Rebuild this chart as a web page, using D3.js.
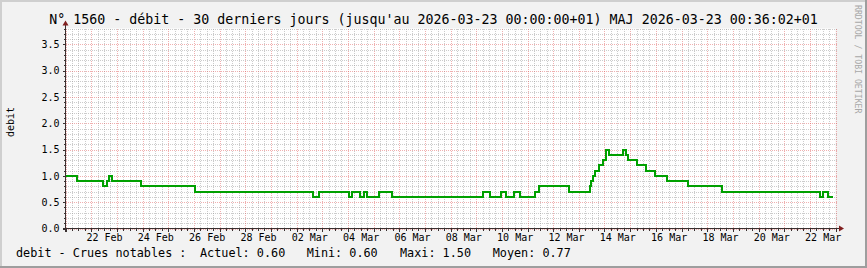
<!DOCTYPE html>
<html>
<head>
<meta charset="utf-8">
<script src="https://cdn.jsdelivr.net/npm/d3@7"></script>
<style>
  body { margin: 0; background: #f2f2f2; }
  svg { display: block; }
  text { font-family: "DejaVu Sans Mono", monospace; }
</style>
</head>
<body>
<div id="chart"></div>
<script>
// debit : change points (local time, +01) -- value holds until the next point
const times = [
  "2026-02-21T00:00", "2026-02-21T11:00", "2026-02-22T11:00", "2026-02-22T15:00",
  "2026-02-22T17:00", "2026-02-22T19:30", "2026-02-23T23:00", "2026-02-26T01:30",
  "2026-03-02T15:00", "2026-03-02T21:30", "2026-03-04T01:00", "2026-03-04T04:00",
  "2026-03-04T11:30", "2026-03-04T14:40", "2026-03-04T17:45", "2026-03-05T05:00",
  "2026-03-05T17:30", "2026-03-09T06:00", "2026-03-09T13:00", "2026-03-09T23:30",
  "2026-03-10T03:40", "2026-03-10T11:35", "2026-03-10T17:10", "2026-03-11T06:50",
  "2026-03-11T11:10", "2026-03-12T14:50", "2026-03-13T10:00", "2026-03-13T11:50",
  "2026-03-13T13:40", "2026-03-13T15:35", "2026-03-13T18:25", "2026-03-13T22:35",
  "2026-03-14T01:50", "2026-03-14T04:00", "2026-03-14T17:20", "2026-03-14T19:55",
  "2026-03-14T21:45", "2026-03-15T06:50", "2026-03-15T14:50", "2026-03-15T23:15",
  "2026-03-16T10:00", "2026-03-17T06:00", "2026-03-18T13:25", "2026-03-22T09:30",
  "2026-03-22T12:05", "2026-03-22T16:45"
];
const values = [
  1.0, 0.9, 0.8, 0.9,
  1.0, 0.9, 0.8, 0.7,
  0.6, 0.7, 0.6, 0.7,
  0.6, 0.7, 0.6, 0.7,
  0.6, 0.7, 0.6, 0.7,
  0.6, 0.7, 0.6, 0.7,
  0.8, 0.7, 0.8, 0.9,
  1.0, 1.1, 1.2, 1.3,
  1.5, 1.4, 1.5, 1.4,
  1.3, 1.2, 1.1, 1.0,
  0.9, 0.8, 0.7, 0.6,
  0.7, 0.6
];
const lastTime = "2026-03-22T22:05";
const yTicks = [0, 0.5, 1.0, 1.5, 2.0, 2.5, 3.0, 3.5];
const legendNames = ["Actuel", "Mini", "Maxi", "Moyen"];
const legendValues = [0.60, 0.60, 1.50, 0.77];
const title = "N° 1560 - débit - 30 derniers jours (jusqu'au 2026-03-23 00:00:00+01) MAJ 2026-03-23 00:36:02+01";

const width = 867, height = 268;
const plot = { left: 65.5, right: 835.5, top: 28.5, bottom: 228.5 };

const parse = d3.utcParse("%Y-%m-%dT%H:%M");
const start = parse("2026-02-21T00:00"), end = parse("2026-03-23T00:00");

const svg = d3.select("#chart").append("svg")
  .attr("width", width)
  .attr("height", height);

// background + shaded border, like rrdtool
svg.append("rect").attr("width", width).attr("height", height).attr("fill", "#f2f2f2");
svg.append("path").attr("d", `M0,0H${width}V2H2V${height}H0Z`).attr("fill", "#cfcfcf");
svg.append("path").attr("d", `M${width},${height}H0V${height - 2}H${width - 2}V0H${width}Z`).attr("fill", "#9e9e9e");

svg.append("rect")
  .attr("x", plot.left).attr("y", plot.top)
  .attr("width", plot.right - plot.left).attr("height", plot.bottom - plot.top)
  .attr("fill", "#ffffff");

const x = d3.scaleTime().domain([start, end]).range([plot.left, plot.right]);
const y = d3.scaleLinear().domain([0, 3.8]).range([plot.bottom, plot.top]);

// grid
const minorX = x.ticks(d3.utcHour.every(6)).filter(d => d.getUTCHours() !== 0);
const majorX = d3.utcDay.range(start, d3.utcDay.offset(end, 1));
const minorY = y.ticks(38).filter(v => Math.round(v * 10) % 5 !== 0);
const majorY = yTicks;

const grid = svg.append("g").attr("shape-rendering", "crispEdges").attr("stroke-dasharray", "1,1");
grid.selectAll(".mx").data(minorX).join("line")
  .attr("x1", d => Math.round(x(d)) + 0.5).attr("x2", d => Math.round(x(d)) + 0.5)
  .attr("y1", plot.top).attr("y2", plot.bottom)
  .attr("stroke", "#8f8f8f").attr("stroke-opacity", 0.45);
grid.selectAll(".my").data(minorY).join("line")
  .attr("y1", d => Math.round(y(d)) + 0.5).attr("y2", d => Math.round(y(d)) + 0.5)
  .attr("x1", plot.left).attr("x2", plot.right + 2)
  .attr("stroke", "#8f8f8f").attr("stroke-opacity", 0.45);
grid.selectAll(".Mx").data(majorX).join("line")
  .attr("x1", d => Math.round(x(d)) + 0.5).attr("x2", d => Math.round(x(d)) + 0.5)
  .attr("y1", plot.top).attr("y2", plot.bottom)
  .attr("stroke", "#de4f4f").attr("stroke-opacity", 0.45);
grid.selectAll(".My").data(majorY).join("line")
  .attr("y1", d => Math.round(y(d)) + 0.5).attr("y2", d => Math.round(y(d)) + 0.5)
  .attr("x1", plot.left).attr("x2", plot.right + 2)
  .attr("stroke", "#de4f4f").attr("stroke-opacity", 0.45);

// small ticks outside the plot
const ticks = svg.append("g").attr("shape-rendering", "crispEdges").attr("stroke", "#3a3030");
ticks.selectAll(".tx").data(majorX.concat(minorX)).join("line")
  .attr("x1", d => Math.round(x(d)) + 0.5).attr("x2", d => Math.round(x(d)) + 0.5)
  .attr("y1", plot.bottom).attr("y2", d => plot.bottom + (d.getUTCHours() === 0 ? 3 : 2));
ticks.selectAll(".ty").data(majorY.concat(minorY)).join("line")
  .attr("y1", d => Math.round(y(d)) + 0.5).attr("y2", d => Math.round(y(d)) + 0.5)
  .attr("x1", plot.left).attr("x2", d => plot.left - (majorY.includes(d) ? 3 : 2));

// series
const points = times.map((t, i) => ({ t: parse(t), v: values[i] }));
points.push({ t: parse(lastTime), v: values[values.length - 1] });

const line = d3.line()
  .x(d => Math.round(x(d.t)))
  .y(d => Math.round(y(d.v)))
  .curve(d3.curveStepAfter);

svg.append("path")
  .datum(points)
  .attr("d", line)
  .attr("fill", "none")
  .attr("stroke", "#00a000")
  .attr("stroke-width", 2)
  .attr("stroke-linejoin", "miter")
  .attr("shape-rendering", "crispEdges");

// axes with arrows
const axis = svg.append("g").attr("shape-rendering", "crispEdges").attr("stroke", "#3a3030");
axis.append("line").attr("x1", plot.left).attr("x2", plot.left).attr("y1", plot.bottom + 3).attr("y2", 22);
axis.append("line").attr("x1", plot.left - 3).attr("x2", 840).attr("y1", plot.bottom).attr("y2", plot.bottom);
svg.append("path")
  .attr("d", `M${plot.left - 3},25.5L${plot.left},20.5L${plot.left + 3},25.5Z`)
  .attr("fill", "#801f1f");
svg.append("path")
  .attr("d", `M839,${plot.bottom - 3}L844,${plot.bottom}L839,${plot.bottom + 3}Z`)
  .attr("fill", "#801f1f");

// x labels, every second day, centred on noon
const labelDays = majorX.filter(d => d < end && d3.utcDay.count(start, d) % 2 === 1);
const xAxis = d3.axisBottom(x)
  .tickValues(labelDays.map(d => d3.utcHour.offset(d, 12)))
  .tickFormat(d3.utcFormat("%d %b"))
  .tickSize(0)
  .tickPadding(0);
svg.append("g")
  .attr("transform", `translate(0,${plot.bottom + 5})`)
  .call(xAxis)
  .call(g => g.select(".domain").remove())
  .call(g => g.selectAll("text")
    .attr("font-family", "DejaVu Sans Mono")
    .attr("font-size", "10px")
    .attr("fill", "#000"));

// y labels
const yAxis = d3.axisLeft(y)
  .tickValues(yTicks)
  .tickFormat(d3.format(".1f"))
  .tickSize(0)
  .tickPadding(0);
svg.append("g")
  .attr("transform", `translate(${plot.left - 6},0)`)
  .call(yAxis)
  .call(g => g.select(".domain").remove())
  .call(g => g.selectAll("text")
    .attr("font-family", "DejaVu Sans Mono")
    .attr("font-size", "10px")
    .attr("fill", "#000"));

// title
svg.append("text")
  .attr("x", width / 2).attr("y", 23.5)
  .attr("text-anchor", "middle")
  .attr("font-size", "13.3px")
  .attr("fill", "#000")
  .text(title);

// vertical label
svg.append("text")
  .attr("transform", "translate(14,122) rotate(-90)")
  .attr("text-anchor", "middle")
  .attr("font-size", "10px")
  .attr("fill", "#000")
  .text("debit");

// watermark
svg.append("text")
  .attr("transform", "translate(855,5) rotate(90)")
  .attr("font-size", "8.2px")
  .attr("fill", "#a8a8a8")
  .text("RRDTOOL / TOBI OETIKER");

// legend
const legY = 257;
svg.append("text")
  .attr("x", 16).attr("y", legY)
  .attr("font-size", "11.8px")
  .text("debit - Crues notables :");
const legendX = [200, 306.7, 400, 492.7];
svg.selectAll(".leg").data(legendNames).join("text")
  .attr("x", (d, i) => legendX[i]).attr("y", legY)
  .attr("font-size", "11.8px")
  .attr("xml:space", "preserve")
  .text((d, i) => `${d}: ${legendValues[i].toFixed(2)}`);
</script>
</body>
</html>
